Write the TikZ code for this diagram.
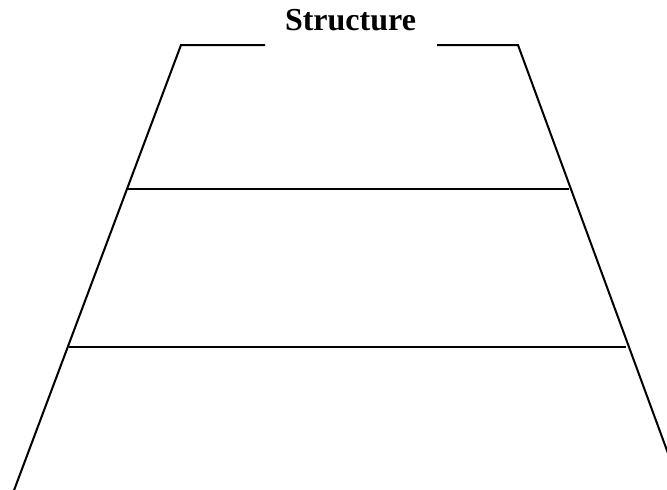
\documentclass[tikz,border=0pt]{standalone}
\usepackage{fontspec}
\setmainfont{Liberation Serif}
\begin{document}
\begin{tikzpicture}[x=1pt,y=-1pt,
  edge/.style={line width=2pt,line join=miter},
  title/.style={font=\bfseries\fontsize{32}{36}\selectfont,inner sep=0pt,anchor=base}]
\useasboundingbox (0,0) rectangle (667,490);
\clip (0,0) rectangle (667,490);
\coordinate (tlend) at (265,45);
\coordinate (tl) at (181,45);
\coordinate (bl) at (8.5,505);
\coordinate (trend) at (437,45);
\coordinate (tr) at (518,45);
\coordinate (br) at (676,475);
\coordinate (l1) at (127,189);
\coordinate (r1) at (569,189);
\coordinate (l2) at (69,347);
\coordinate (r2) at (626,347);
\node[title] (t) at (350.5,30) {Structure};
\draw[edge] (tlend) -- (tl) -- (bl);
\draw[edge] (trend) -- (tr) -- (br);
\draw[edge] (l1) -- (r1);
\draw[edge] (l2) -- (r2);
\end{tikzpicture}
\end{document}
